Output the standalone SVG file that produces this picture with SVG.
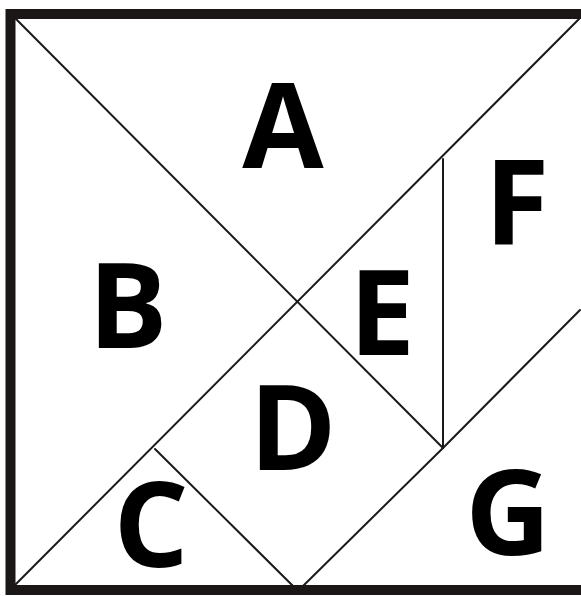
<svg xmlns="http://www.w3.org/2000/svg" width="581" height="596" viewBox="0 0 581 596">
<style>
.frame{fill:none;stroke:#1a1716;stroke-width:10}
.cut{stroke:#1a1a1a;stroke-width:2;fill:none;stroke-linecap:round}
.lbl{font-family:"Open Sans","Liberation Sans",sans-serif;font-weight:bold;font-size:118px;fill:#000;text-anchor:middle}
</style>
<rect width="581" height="596" fill="#fff"/>
<g id="connectors">
<line class="cut" x1="15" y1="18" x2="443" y2="448"/>
<line class="cut" x1="579" y1="19" x2="15" y2="585"/>
<line class="cut" x1="443" y1="159" x2="443" y2="448"/>
<line class="cut" x1="443" y1="448" x2="580" y2="310"/>
<line class="cut" x1="443" y1="448" x2="303" y2="586"/>
<line class="cut" x1="155" y1="449" x2="293" y2="586"/>
</g>
<g id="frame"><path class="frame" d="M581,14 H10.5 V590 H581"/></g>
<g id="A"><text class="lbl" x="283" y="168">A</text></g>
<g id="B"><text class="lbl" x="128" y="348">B</text></g>
<g id="C"><text class="lbl" x="151" y="567">C</text></g>
<g id="D"><text class="lbl" x="293" y="470">D</text></g>
<g id="E"><text class="lbl" x="382" y="355">E</text></g>
<g id="F"><text class="lbl" x="517" y="245">F</text></g>
<g id="G"><text class="lbl" x="508" y="555">G</text></g>
</svg>
